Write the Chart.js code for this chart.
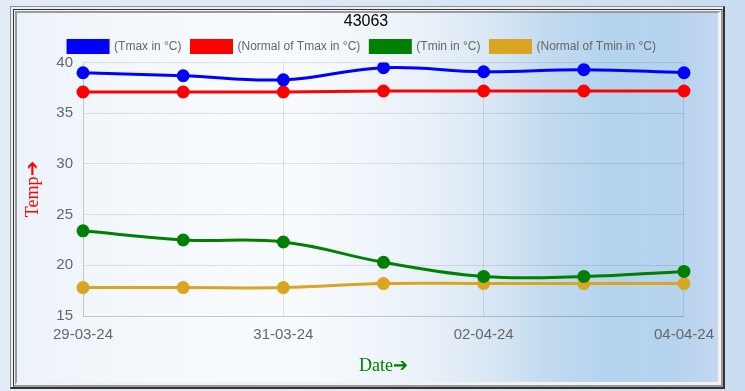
<!DOCTYPE html>
<html>
<head>
<meta charset="utf-8">
<script src="https://cdn.jsdelivr.net/npm/chart.js@4.4.1/dist/chart.umd.min.js"></script>
<style>
  html, body { margin: 0; padding: 0; width: 745px; height: 391px; overflow: hidden; }
  body { background: linear-gradient(90deg, #e3ecf6 0%, #dde8f4 50%, #cadcef 100%); position: relative; }
  #d1 { position: absolute; left: 10px; top: 6px; width: 715px; height: 383px; box-sizing: border-box;
        border-style: solid; border-width: 1px 2px 2px 1px; border-color: #8c8c8c #333 #333 #8c8c8c;
        padding: 2px 0 0 2px; background: #e9f0f7; }
  #d2 { width: 100%; height: 100%; box-sizing: border-box; border-style: solid; border-width: 1px 2px 2px 1px;
        border-color: #333 #9a9a9a #9a9a9a #333; padding: 1px 0 0 1px; background: #eef3f9; }
  #d3 { width: 100%; height: 100%; box-sizing: border-box; border-style: solid; border-width: 2px 3px 3px 2px;
        border-color: #9a9a9a #f2f2f2 #f2f2f2 #9a9a9a;
        background: linear-gradient(90deg, #edf3fa 0%, #f5f9fd 20%, #f8fbfe 40%, #e9f1f8 58%, #d8e6f4 68%, #c2daef 76%, #b3d4ee 84%, #b6d3ee 94%, #c3d7ef 100%); }
  #wrap { position: absolute; left: 8px; top: 10px; width: 716px; height: 371px; }
</style>
</head>
<body>
<div id="d1"><div id="d2"><div id="d3"></div></div></div>
<div id="wrap"><canvas id="c" width="716" height="371"></canvas></div>
<script>
const chartTitle = '43063';
const categories = ['29-03-24', '30-03-24', '31-03-24', '01-04-24', '02-04-24', '03-04-24', '04-04-24'];
const tmax       = [39.0, 38.7, 38.3, 39.5, 39.1, 39.3, 39.0];
const tmaxNormal = [37.1, 37.1, 37.1, 37.2, 37.2, 37.2, 37.2];
const tmin       = [23.4, 22.5, 22.3, 20.3, 18.9, 18.9, 19.4];
const tminNormal = [17.8, 17.8, 17.8, 18.2, 18.2, 18.2, 18.2];
const seriesNames = ['(Tmax in °C)', '(Normal of Tmax in °C)', '(Tmin in °C)', '(Normal of Tmin in °C)'];
const seriesColors = ['#0000ff', '#ff0000', '#008000', '#daa520'];
const yMin = 15, yMax = 40, yStep = 5;

Chart.defaults.font.family = "'Liberation Sans', Arial, sans-serif";
Chart.defaults.color = '#666';

const seriesData = [tmax, tmaxNormal, tmin, tminNormal];
const datasets = seriesData.map((d, i) => ({
  label: seriesNames[i],
  data: d,
  borderColor: seriesColors[i],
  backgroundColor: seriesColors[i],
  pointBackgroundColor: seriesColors[i],
  pointBorderColor: seriesColors[i],
  borderWidth: 3,
  pointRadius: 5,
  tension: 0.4,
  fill: false
}));

const legendShift = {
  id: 'legendShift',
  afterLayout(chart) {
    if (chart.legend) { chart.legend.left -= 4; chart.legend.right -= 4; }
  }
};

new Chart(document.getElementById('c'), {
  type: 'line',
  data: { labels: categories, datasets },
  plugins: [legendShift],
  options: {
    responsive: false,
    animation: false,
    layout: { padding: 0 },
    plugins: {
      title: {
        display: true, text: chartTitle, color: '#000',
        font: { family: "'Liberation Sans Narrow', 'Arial Narrow', 'Liberation Sans', Arial, sans-serif", size: 16, weight: 'normal', lineHeight: 1.1 },
        padding: { top: 3, bottom: 0 }
      },
      legend: {
        display: true,
        labels: { font: { size: 12 }, color: '#666', padding: 10 }
      },
      tooltip: { enabled: false }
    },
    scales: {
      x: {
        grid: { drawTicks: false, color: 'rgba(0,0,0,0.1)' },
        ticks: { autoSkip: true, maxTicksLimit: 4, maxRotation: 0, minRotation: 0, padding: 10, font: { size: 15 }, color: '#666' },
        title: { display: true, text: 'Date\u2794', color: '#008000',
                 font: { family: "'Liberation Serif', 'Times New Roman', serif", size: 18 }, padding: { top: 4, bottom: 4 } },
        afterFit: (s) => { s.height = 65; }
      },
      y: {
        min: yMin, max: yMax,
        grid: { drawTicks: false, color: 'rgba(0,0,0,0.1)' },
        ticks: { stepSize: yStep, padding: 10, font: { size: 15 }, color: '#666' },
        title: { display: true, text: 'Temp\u2794', color: '#ff0000',
                 font: { family: "'Liberation Serif', 'Times New Roman', serif", size: 18 }, padding: { top: 14, bottom: 4 } },
        afterFit: (s) => { s.width = 75; }
      }
    }
  }
});
</script>
</body>
</html>
